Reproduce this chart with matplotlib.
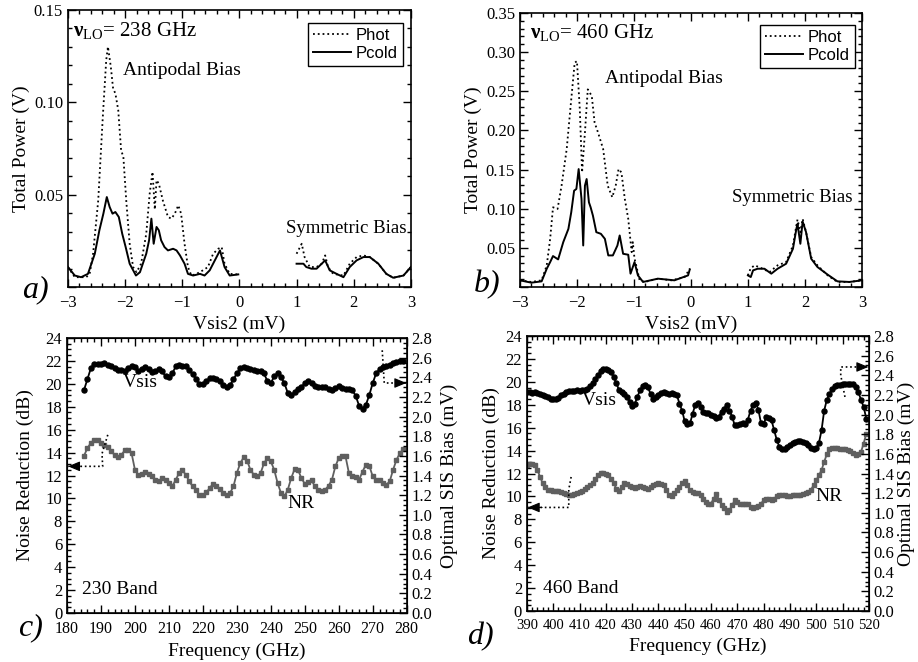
#!/usr/bin/env python3
import numpy as np
import matplotlib
matplotlib.use('Agg')
import matplotlib.pyplot as plt
from matplotlib.ticker import MultipleLocator, FuncFormatter

plt.rcParams['font.family'] = ['Liberation Serif', 'DejaVu Serif']
plt.rcParams['mathtext.fontset'] = 'custom'
plt.rcParams['mathtext.rm'] = 'Liberation Serif'
plt.rcParams['mathtext.it'] = 'Liberation Serif:italic'
plt.rcParams['mathtext.bf'] = 'Liberation Serif:bold'

# === Panel a: 238 GHz total power vs bias ===
a_phot_l_x = [-3.00, -2.88, -2.68, -2.62, -2.56, -2.47, -2.39, -2.33, -2.30, -2.25, -2.21, -2.17,
              -2.12, -2.07, -2.03, -1.98, -1.92, -1.86, -1.80, -1.72, -1.63, -1.57, -1.52, -1.48,
              -1.45, -1.41, -1.34, -1.25, -1.19, -1.13, -1.07, -1.02, -0.96, -0.90, -0.84, -0.75,
              -0.64, -0.55, -0.46, -0.37, -0.31, -0.26, -0.17, -0.02]
a_phot_l_y = [0.0108, 0.0053, 0.0053, 0.0071, 0.0180, 0.0469, 0.0921, 0.1229, 0.1301, 0.1193, 0.1075, 0.1048,
              0.0958, 0.0741, 0.0704, 0.0469, 0.0234, 0.0108, 0.0080, 0.0126, 0.0288, 0.0505, 0.0623, 0.0420,
              0.0578, 0.0560, 0.0469, 0.0379, 0.0370, 0.0397, 0.0442, 0.0397, 0.0234, 0.0108, 0.0062, 0.0071,
              0.0090, 0.0108, 0.0180, 0.0207, 0.0216, 0.0126, 0.0071, 0.0068]
a_phot_r_x = [1.00, 1.09, 1.14, 1.23, 1.35, 1.44, 1.50, 1.55, 1.64, 1.82, 1.93, 2.05, 2.17, 2.28,
              2.43, 2.57, 2.69, 2.87, 3.00]
a_phot_r_y = [0.0180, 0.0234, 0.0162, 0.0108, 0.0108, 0.0126, 0.0171, 0.0108, 0.0071, 0.0062, 0.0126,
              0.0162, 0.0171, 0.0162, 0.0126, 0.0071, 0.0050, 0.0062, 0.0108]
a_cold_l_x = [-3.00, -2.88, -2.77, -2.65, -2.53, -2.45, -2.38, -2.32, -2.27, -2.22, -2.17, -2.11,
              -2.05, -1.99, -1.92, -1.81, -1.74, -1.69, -1.63, -1.58, -1.54, -1.50, -1.45, -1.41,
              -1.37, -1.31, -1.25, -1.16, -1.10, -1.04, -0.96, -0.90, -0.81, -0.69, -0.61, -0.52,
              -0.43, -0.34, -0.26, -0.17, -0.02]
a_cold_l_y = [0.0108, 0.0062, 0.0053, 0.0071, 0.0180, 0.0307, 0.0397, 0.0487, 0.0433, 0.0397, 0.0406, 0.0379,
              0.0288, 0.0216, 0.0126, 0.0062, 0.0080, 0.0126, 0.0180, 0.0253, 0.0370, 0.0234, 0.0325, 0.0307,
              0.0253, 0.0216, 0.0198, 0.0207, 0.0198, 0.0171, 0.0126, 0.0071, 0.0062, 0.0071, 0.0062, 0.0090,
              0.0144, 0.0198, 0.0108, 0.0062, 0.0068]
a_cold_r_x = [1.00, 1.12, 1.17, 1.26, 1.35, 1.44, 1.50, 1.58, 1.70, 1.82, 1.93, 2.05, 2.17, 2.28,
              2.43, 2.57, 2.69, 2.87, 3.00]
a_cold_r_y = [0.0126, 0.0126, 0.0108, 0.0099, 0.0099, 0.0126, 0.0144, 0.0090, 0.0071, 0.0053, 0.0108,
              0.0144, 0.0162, 0.0162, 0.0126, 0.0071, 0.0050, 0.0062, 0.0108]

# === Panel b: 460 GHz total power vs bias ===
b_phot_l_x = [-3.00, -2.80, -2.62, -2.53, -2.47, -2.42, -2.34, -2.27, -2.18, -2.10, -2.04, -2.00,
              -1.95, -1.91, -1.86, -1.81, -1.74, -1.69, -1.63, -1.54, -1.46, -1.38, -1.32, -1.27,
              -1.22, -1.16, -1.10, -1.04, -1.02, -0.99, -0.96, -0.90, -0.81, -0.58, -0.34, -0.11, -0.02]
b_phot_l_y = [0.0085, 0.0064, 0.0085, 0.0276, 0.0615, 0.1018, 0.0997, 0.1294, 0.1761, 0.2397, 0.2864, 0.2885,
              0.2270, 0.1464, 0.1973, 0.2524, 0.2440, 0.2100, 0.1973, 0.1761, 0.1294, 0.1146, 0.1294, 0.1506,
              0.1464, 0.1124, 0.0870, 0.0445, 0.0573, 0.0361, 0.0276, 0.0085, 0.0064, 0.0106, 0.0085, 0.0127, 0.0233]
b_phot_r_x = [1.00, 1.05, 1.12, 1.23, 1.38, 1.52, 1.67, 1.79, 1.85, 1.87, 1.92, 1.96, 2.02, 2.11,
              2.22, 2.40, 2.57, 2.78, 3.00]
b_phot_r_y = [0.0148, 0.0242, 0.0276, 0.0242, 0.0191, 0.0276, 0.0318, 0.0530, 0.0785, 0.0861, 0.0700,
              0.0870, 0.0700, 0.0382, 0.0276, 0.0148, 0.0064, 0.0064, 0.0085]
b_cold_l_x = [-3.00, -2.80, -2.62, -2.53, -2.47, -2.42, -2.33, -2.24, -2.15, -2.10, -2.05, -2.01,
              -1.97, -1.92, -1.89, -1.86, -1.83, -1.79, -1.76, -1.72, -1.66, -1.58, -1.51, -1.45,
              -1.37, -1.29, -1.25, -1.19, -1.10, -1.06, -0.99, -0.93, -0.84, -0.58, -0.29, -0.05, -0.02]
b_cold_l_y = [0.0085, 0.0055, 0.0072, 0.0233, 0.0318, 0.0395, 0.0352, 0.0573, 0.0742, 0.0955, 0.1230, 0.1252,
              0.1506, 0.1124, 0.0530, 0.1294, 0.1379, 0.1082, 0.1018, 0.0912, 0.0700, 0.0679, 0.0615, 0.0403,
              0.0403, 0.0530, 0.0658, 0.0424, 0.0412, 0.0170, 0.0318, 0.0148, 0.0064, 0.0106, 0.0085, 0.0148, 0.0225]
b_cold_r_x = [1.00, 1.05, 1.09, 1.17, 1.29, 1.41, 1.52, 1.67, 1.79, 1.85, 1.87, 1.92, 1.96, 2.02,
              2.11, 2.22, 2.40, 2.57, 2.78, 3.00]
b_cold_r_y = [0.0148, 0.0127, 0.0212, 0.0233, 0.0233, 0.0170, 0.0233, 0.0297, 0.0488, 0.0742, 0.0806,
              0.0552, 0.0836, 0.0700, 0.0361, 0.0255, 0.0157, 0.0072, 0.0064, 0.0085]

# === Panel c: 230 band ===
c_freq = list(range(185, 280))
c_vsis = [2.27, 2.38, 2.49, 2.54, 2.54, 2.54, 2.55, 2.53, 2.51, 2.49, 2.47, 2.47, 2.46, 2.49, 2.51,
          2.50, 2.46, 2.48, 2.50, 2.48, 2.45, 2.46, 2.48, 2.46, 2.41, 2.40, 2.44, 2.51, 2.53, 2.52,
          2.51, 2.47, 2.43, 2.38, 2.33, 2.33, 2.36, 2.39, 2.39, 2.38, 2.36, 2.32, 2.30, 2.32, 2.38,
          2.44, 2.49, 2.50, 2.49, 2.48, 2.47, 2.46, 2.46, 2.44, 2.36, 2.34, 2.41, 2.44, 2.40, 2.34,
          2.24, 2.22, 2.25, 2.28, 2.30, 2.34, 2.36, 2.34, 2.31, 2.30, 2.30, 2.30, 2.28, 2.27, 2.29,
          2.31, 2.29, 2.28, 2.28, 2.27, 2.21, 2.11, 2.08, 2.12, 2.22, 2.34, 2.44, 2.48, 2.50, 2.51,
          2.53, 2.55, 2.56, 2.57, 2.57]
c_nr = [13.72, 14.39, 14.83, 15.12, 15.06, 14.83, 14.68, 14.48, 14.10, 13.81, 13.60, 13.81, 14.19,
        14.19, 13.95, 12.50, 12.06, 12.15, 12.27, 12.15, 11.92, 11.57, 11.48, 11.77, 11.57, 11.34,
        11.05, 11.63, 12.21, 12.44, 12.06, 11.48, 11.05, 10.70, 10.32, 10.32, 10.52, 10.90, 11.28,
        11.10, 10.81, 10.47, 10.32, 10.47, 11.05, 12.21, 13.08, 13.58, 13.31, 12.50, 12.06, 11.92,
        12.21, 13.08, 13.52, 13.23, 12.50, 11.34, 10.47, 10.17, 10.76, 11.77, 12.56, 12.50, 11.77,
        11.28, 11.40, 11.57, 11.05, 10.70, 10.61, 10.76, 11.10, 11.63, 12.79, 13.52, 13.72, 13.66,
        12.21, 11.92, 11.86, 11.63, 12.35, 12.94, 12.85, 11.92, 11.57, 11.63, 11.34, 11.19, 11.48,
        12.50, 13.37, 13.95, 14.30]

# === Panel d: 460 band ===
d_freq = list(range(390, 520))
d_vsis = [2.23, 2.23, 2.22, 2.23, 2.22, 2.21, 2.20, 2.19, 2.18, 2.16, 2.16, 2.16, 2.17, 2.20, 2.21,
          2.23, 2.24, 2.24, 2.24, 2.25, 2.24, 2.25, 2.25, 2.26, 2.29, 2.32, 2.36, 2.40, 2.44, 2.46,
          2.46, 2.45, 2.43, 2.38, 2.32, 2.25, 2.23, 2.21, 2.18, 2.13, 2.09, 2.11, 2.18, 2.25, 2.29,
          2.30, 2.28, 2.21, 2.16, 2.18, 2.20, 2.22, 2.23, 2.22, 2.21, 2.22, 2.21, 2.20, 2.11, 2.04,
          1.93, 1.90, 1.91, 2.01, 2.10, 2.12, 2.08, 2.03, 2.02, 2.02, 2.00, 1.99, 1.97, 1.98, 2.03,
          2.06, 2.10, 2.04, 1.98, 1.89, 1.89, 1.90, 1.91, 1.90, 1.95, 2.04, 2.10, 2.12, 2.05, 1.91,
          1.90, 1.98, 1.97, 1.94, 1.84, 1.74, 1.67, 1.65, 1.65, 1.67, 1.69, 1.71, 1.72, 1.73, 1.73,
          1.72, 1.71, 1.69, 1.66, 1.65, 1.66, 1.71, 1.84, 2.04, 2.15, 2.21, 2.26, 2.29, 2.30, 2.30,
          2.31, 2.31, 2.31, 2.31, 2.31, 2.28, 2.23, 2.15, 2.08, 1.96]
d_nr = [12.72, 12.87, 12.87, 12.72, 12.29, 11.71, 11.13, 10.84, 10.60, 10.55, 10.49, 10.49, 10.49,
        10.40, 10.26, 10.20, 10.11, 10.11, 10.20, 10.26, 10.40, 10.49, 10.69, 10.84, 10.98, 11.19,
        11.48, 11.85, 12.06, 12.06, 12.00, 11.85, 11.56, 11.13, 10.69, 10.49, 10.84, 11.19, 11.07,
        10.89, 10.84, 10.78, 10.84, 10.89, 10.84, 10.75, 10.69, 10.84, 10.98, 11.07, 11.13, 11.07,
        10.98, 10.55, 10.11, 10.02, 10.31, 10.55, 10.84, 11.13, 11.36, 10.98, 10.55, 10.40, 10.26,
        10.26, 10.11, 9.82, 9.53, 9.33, 9.38, 9.82, 10.20, 9.73, 9.24, 8.95, 8.66, 8.80, 9.24, 9.67,
        9.53, 9.38, 9.38, 9.38, 9.33, 9.09, 8.95, 9.04, 9.15, 9.38, 9.67, 9.82, 9.82, 9.73, 9.82,
        10.02, 10.11, 10.11, 10.11, 10.05, 10.02, 10.11, 10.11, 10.11, 10.11, 10.17, 10.26, 10.40,
        10.60, 10.98, 11.42, 11.85, 12.29, 13.02, 13.68, 14.18, 14.26, 14.26, 14.26, 14.18, 14.18,
        14.18, 14.09, 13.97, 13.80, 13.60, 13.68, 13.89, 14.61, 15.49]

# dotted arrow paths pointing to the axis each curve belongs to (last point = arrow tip)
c_nr_arrow = ([192.0, 190.3, 190.5, 180.3], [15.55, 13.9, 12.8, 12.8])
c_vs_arrow = ([272.8, 273.4, 279.9], [2.675, 2.342, 2.342])
d_nr_arrow = ([406.8, 405.9, 405.9, 390.3], [11.7, 10.6, 9.04, 9.04])
d_vs_arrow = ([510.9, 509.3, 509.3, 519.8], [2.18, 2.40, 2.485, 2.485])

GREY = '#5f5f5f'


def style_axes(ax, xmaj, xmin, ymaj, ymin, right=True):
    ax.xaxis.set_major_locator(MultipleLocator(xmaj))
    ax.xaxis.set_minor_locator(MultipleLocator(xmin))
    ax.yaxis.set_major_locator(MultipleLocator(ymaj))
    ax.yaxis.set_minor_locator(MultipleLocator(ymin))
    ax.tick_params(which='both', direction='in', top=True, right=right, width=1.0)
    ax.tick_params(which='major', length=6)
    ax.tick_params(which='minor', length=3)
    ax.tick_params(axis='x', pad=6)
    for s in ax.spines.values():
        s.set_linewidth(1.2)


def draw_arrow(ax, path, frac):
    xs, ys = path
    ax.plot(xs, ys, ls=':', color='k', lw=1.2)
    # solid filled head on the last leg
    x0 = xs[-1] - frac * (xs[-1] - xs[-2])
    ax.annotate('', xy=(xs[-1], ys[-1]), xytext=(x0, ys[-1]),
                arrowprops=dict(arrowstyle='-|>,head_length=0.6,head_width=0.25', color='k',
                                lw=0.8, shrinkA=0, shrinkB=0, mutation_scale=12))


def power_panel(ax, phot, cold, ylim, lo_text, lo_pos, anti_pos, sym_pos, leg_anchor):
    for xs, ys in phot:
        ax.plot(xs, ys, ls=':', color='k', lw=1.3)
    for xs, ys in cold:
        ax.plot(xs, ys, ls='-', color='k', lw=1.4)
    ax.plot([], [], ls=':', color='k', lw=1.3, label='Phot')
    ax.plot([], [], ls='-', color='k', lw=1.4, label='Pcold')
    ax.set_xlim(-3, 3)
    ax.set_ylim(*ylim)
    style_axes(ax, 1, 0.2, 0.05, 0.01)
    ax.yaxis.set_major_formatter(FuncFormatter(lambda v, p: '' if abs(v) < 1e-9 else f'{v:.2f}'))
    ax.tick_params(labelsize=12)
    ax.set_xlabel('Vsis2 (mV)', fontsize=14, labelpad=3)
    ax.set_ylabel('Total Power (V)', fontsize=14, labelpad=3)
    ax.text(*lo_pos, lo_text, fontsize=15, va='center')
    ax.text(*anti_pos, 'Antipodal Bias', fontsize=14, va='center')
    ax.text(*sym_pos, 'Symmetric Bias', fontsize=13.5, va='center')
    leg = ax.legend(loc='upper right', bbox_to_anchor=leg_anchor, fancybox=False,
                    edgecolor='k', framealpha=1, handlelength=2.3, handletextpad=0.3,
                    borderpad=0.3, labelspacing=0.15, borderaxespad=0,
                    prop={'family': 'Liberation Sans', 'size': 12})
    leg.get_frame().set_linewidth(1.0)


def band_panel(ax, freq, vsis, nr, xlim, xmaj, xtick_size, ylab_pad, rlab_pad, vs_lbl, nr_lbl,
               band_lbl, band_pos, nr_arrow, vs_arrow):
    ax2 = ax.twinx()
    ax.plot(freq, nr, color=GREY, lw=1.3, marker='s', ms=3.4, mec=GREY, mfc=GREY)
    ax2.plot(freq, vsis, color='k', lw=1.3, marker='o', ms=3.6, mec='k', mfc='k')
    ax.set_xlim(*xlim)
    ax.set_ylim(0, 24)
    ax2.set_ylim(0, 2.8)
    style_axes(ax, xmaj, 2, 2, 0.5, right=False)
    ax2.yaxis.set_major_locator(MultipleLocator(0.2))
    ax2.yaxis.set_minor_locator(MultipleLocator(0.05))
    ax2.yaxis.set_major_formatter(FuncFormatter(lambda v, p: f'{v:.1f}'))
    ax2.tick_params(which='both', direction='in', width=1.0, labelsize=12)
    ax2.tick_params(which='major', length=6)
    ax2.tick_params(which='minor', length=3)
    ax.tick_params(axis='y', labelsize=12)
    ax.tick_params(axis='x', labelsize=xtick_size)
    ax.set_xlabel('Frequency (GHz)', fontsize=14, labelpad=4)
    ax.set_ylabel('Noise Reduction (dB)', fontsize=14, labelpad=ylab_pad)
    ax2.set_ylabel('Optimal SIS Bias (mV)', fontsize=14, rotation=90, labelpad=rlab_pad)
    ax.text(*vs_lbl, 'Vsis', fontsize=14, ha='center', va='center')
    ax.text(*nr_lbl, 'NR', fontsize=14, ha='center', va='center')
    ax.text(*band_pos, band_lbl, fontsize=14, va='center')
    draw_arrow(ax, nr_arrow, 0.35)
    draw_arrow(ax2, vs_arrow, 0.35)


fig = plt.figure(figsize=(9.18, 6.62), dpi=100)

ax_a = fig.add_axes([0.074, 0.5665, 0.3736, 0.4184])
power_panel(ax_a,
            [(a_phot_l_x, a_phot_l_y), (a_phot_r_x, a_phot_r_y)],
            [(a_cold_l_x, a_cold_l_y), (a_cold_r_x, a_cold_r_y)],
            (0, 0.15), r'$\mathbf{ν}_{\mathrm{LO}}$= 238 GHz', (-2.91, 0.139),
            (-2.03, 0.1175), (0.81, 0.0316), (0.977, 0.953))

ax_b = fig.add_axes([0.5664, 0.5665, 0.3725, 0.4139])
power_panel(ax_b,
            [(b_phot_l_x, b_phot_l_y), (b_phot_r_x, b_phot_r_y)],
            [(b_cold_l_x, b_cold_l_y), (b_cold_r_x, b_cold_r_y)],
            (0, 0.35), r'$\mathbf{ν}_{\mathrm{LO}}$= 460 GHz', (-2.82, 0.3245),
            (-1.51, 0.266), (0.72, 0.1146), (0.98, 0.956))

ax_c = fig.add_axes([0.073, 0.074, 0.370, 0.4154])
band_panel(ax_c, c_freq, c_vsis, c_nr, (180, 280), 10, 11.5, 8, 6,
           (201.5, 20.1), (249, 9.6), '230 Band', (184.3, 2.05),
           c_nr_arrow, c_vs_arrow)

ax_d = fig.add_axes([0.574, 0.077, 0.3725, 0.4154])
band_panel(ax_d, d_freq, d_vsis, d_nr, (390, 520), 10, 10.5, 4, 2,
           (417.5, 18.4), (504.8, 9.97), '460 Band', (396, 2.0),
           d_nr_arrow, d_vs_arrow)

# panel letters
for lbl, (px, py) in zip(['a)', 'b)', 'c)', 'd)'],
                         [(35, 290), (487, 285), (30, 628), (480, 637)]):
    fig.text(px / 918, 1 - py / 662, lbl, fontsize=23, style='italic',
             ha='center', va='center')

fig.savefig('out.png', dpi=100)
